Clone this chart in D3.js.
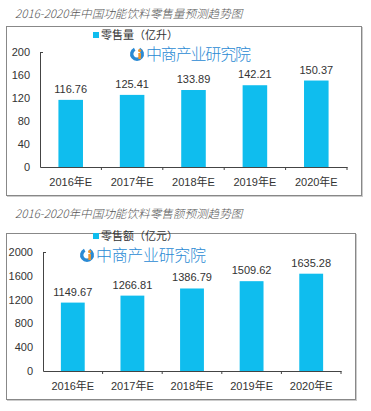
<!DOCTYPE html>
<html lang="zh">
<head>
<meta charset="utf-8">
<title>功能饮料零售预测</title>
<script src="https://cdn.jsdelivr.net/npm/d3@7"></script>
<style>
  body { margin: 0; background: #fff; }
  text { font-family: "Liberation Sans", "Noto Sans CJK SC", sans-serif; }
</style>
</head>
<body>
<div id="chart"></div>
<script>
// data
var years = ["2016年E", "2017年E", "2018年E", "2019年E", "2020年E"];
var volume = [116.76, 125.41, 133.89, 142.21, 150.37];
var revenue = [1149.67, 1266.81, 1386.79, 1509.62, 1635.28];
var volumeTicks = [0, 40, 80, 120, 160, 200];
var revenueTicks = [0, 400, 800, 1200, 1600, 2000];

var W = 371, H = 411;
var barColor = "#0fbdee";

var svg = d3.select("#chart").append("svg")
  .attr("width", W)
  .attr("height", H);

// one panel: title, frame, legend, logo, bars
function panel(cfg) {
  var g = svg.append("g");

  g.append("text")
    .attr("x", 15)
    .attr("y", cfg.titleY)
    .attr("font-size", 11.6)
    .attr("font-style", "italic")
    .attr("fill", "#555")
    .style("font-family", "'Noto Sans CJK SC', sans-serif")
    .style("font-weight", 300)
    .text(cfg.title);

  // frame with a soft shadow
  g.append("rect")
    .attr("x", cfg.box[0] + 1.5).attr("y", cfg.box[1] + 1.5)
    .attr("width", cfg.box[2] - cfg.box[0]).attr("height", cfg.box[3] - cfg.box[1])
    .attr("fill", "none").attr("stroke", "#ccc");
  g.append("rect")
    .attr("x", cfg.box[0] + 0.5).attr("y", cfg.box[1] + 0.5)
    .attr("width", cfg.box[2] - cfg.box[0]).attr("height", cfg.box[3] - cfg.box[1])
    .attr("fill", "#fff").attr("stroke", "#888");

  var x = d3.scaleBand()
    .domain(years)
    .range([cfg.x0, cfg.x1])
    .paddingInner(0.6)
    .paddingOuter(0.3);
  var y = d3.scaleLinear()
    .domain([0, d3.max(cfg.ticks)])
    .range([cfg.y0, cfg.y1]);

  // legend
  g.append("rect")
    .attr("x", 93).attr("y", cfg.legendY - 4)
    .attr("width", 6).attr("height", 6)
    .attr("fill", barColor);
  g.append("text")
    .attr("x", 101).attr("y", cfg.legendY + 3)
    .attr("font-size", 11)
    .attr("fill", "#333")
    .style("font-family", "'Noto Sans CJK SC', sans-serif")
    .text(cfg.legend);

  // watermark logo
  var logo = g.append("g").attr("transform", "translate(" + cfg.logo[0] + "," + cfg.logo[1] + ")");
  logo.append("path")
    .attr("d", d3.arc()({innerRadius: 3.6, outerRadius: 7, startAngle: 0.45, endAngle: 2 * Math.PI - 0.45}))
    .attr("fill", "#2a8ad4");
  logo.append("circle").attr("cx", 2.6).attr("cy", -3.4).attr("r", 1.6).attr("fill", "#f0962e");
  logo.append("rect").attr("x", 1.3).attr("y", -1).attr("width", 2.6).attr("height", 6).attr("fill", "#f0962e");
  logo.append("text")
    .attr("x", 9).attr("y", 6)
    .attr("font-size", 16)
    .attr("fill", "#2a8ad4")
    .style("font-family", "'Noto Sans CJK SC', sans-serif")
    .style("font-weight", 300)
    .attr("textLength", cfg.logoW)
    .text("中商产业研究院");

  // bars
  g.selectAll(".bar")
    .data(cfg.values)
    .enter().append("rect")
    .attr("x", function(d, i) { return x(years[i]); })
    .attr("y", function(d) { return y(d); })
    .attr("width", x.bandwidth())
    .attr("height", function(d) { return cfg.y0 - y(d); })
    .attr("fill", barColor);

  g.selectAll(".val")
    .data(cfg.values)
    .enter().append("text")
    .attr("x", function(d, i) { return x(years[i]) + x.bandwidth() / 2; })
    .attr("y", function(d) { return y(d) - 7; })
    .attr("text-anchor", "middle")
    .attr("font-size", 11)
    .attr("fill", "#333")
    .text(function(d) { return d.toFixed(2); });

  // y axis
  var yAxis = g.append("g")
    .attr("transform", "translate(" + cfg.x0 + ",0)")
    .call(d3.axisLeft(y).tickValues(cfg.ticks).tickFormat(d3.format("d"))
      .tickSizeInner(0).tickSizeOuter(0).tickPadding(10));
  yAxis.select(".domain").attr("stroke", "#444");
  yAxis.selectAll("text").attr("font-size", 11).attr("fill", "#333")
    .style("font-family", "'Liberation Sans', sans-serif");
  g.append("line")
    .attr("x1", cfg.x0).attr("x2", cfg.x0 + 3)
    .attr("y1", cfg.y1 + 0.5).attr("y2", cfg.y1 + 0.5)
    .attr("stroke", "#444");

  // x axis with ticks between bands
  var xAxis = g.append("g")
    .attr("transform", "translate(0," + cfg.y0 + ")")
    .call(d3.axisBottom(x).tickSize(0).tickPadding(11));
  xAxis.select(".domain").attr("stroke", "#444");
  xAxis.selectAll("text").attr("font-size", 11).attr("fill", "#333")
    .style("font-family", "'Liberation Sans', 'Noto Sans CJK SC', sans-serif");
  var step = (cfg.x1 - cfg.x0) / years.length;
  g.selectAll(".sep")
    .data(d3.range(1, years.length + 1))
    .enter().append("line")
    .attr("x1", function(i) { return cfg.x0 + i * step; })
    .attr("x2", function(i) { return cfg.x0 + i * step; })
    .attr("y1", cfg.y0).attr("y2", cfg.y0 + 3)
    .attr("stroke", "#444");
}

panel({
  title: "2016-2020年中国功能饮料零售量预测趋势图",
  titleY: 18,
  box: [6, 26, 361, 195],
  legend: "零售量（亿升）",
  legendY: 36,
  logo: [137, 54],
  logoW: 105,
  values: volume,
  ticks: volumeTicks,
  x0: 40, x1: 347, y0: 167, y1: 52
});

panel({
  title: "2016-2020年中国功能饮料零售额预测趋势图",
  titleY: 218,
  box: [6, 233, 355, 399],
  legend: "零售额（亿元）",
  legendY: 237,
  logo: [87, 255],
  logoW: 110,
  values: revenue,
  ticks: revenueTicks,
  x0: 43, x1: 341, y0: 371, y1: 252
});
</script>
</body>
</html>
